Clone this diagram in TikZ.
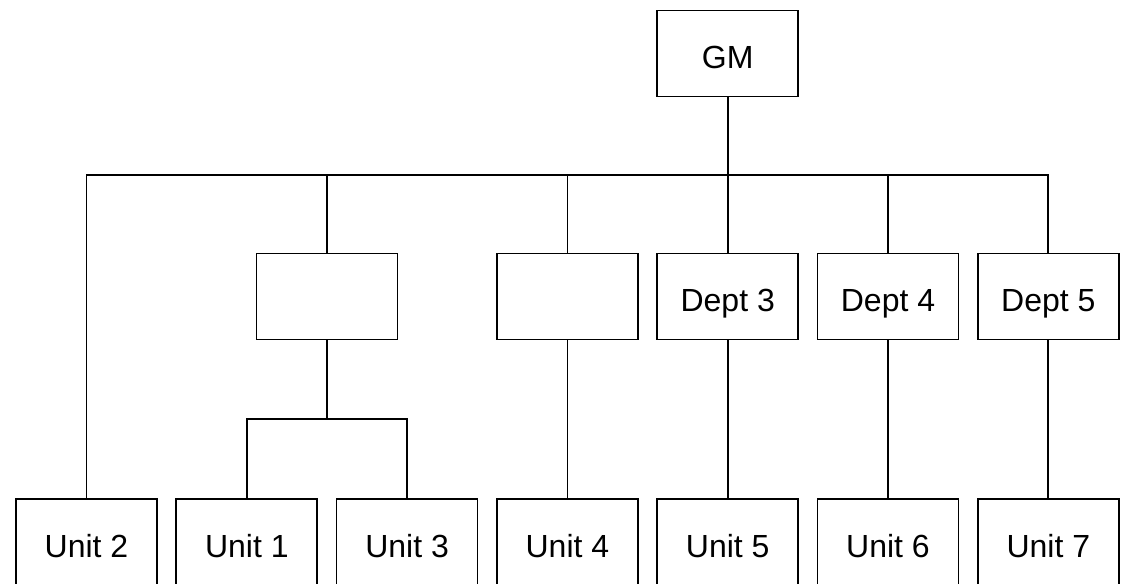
\documentclass[tikz,border=0pt]{standalone}
\usepackage{fontspec}
\setmainfont{Liberation Sans}
\usepackage{tikz}

\tikzset{
  orgbox/.style={draw,line width=1.3pt,inner sep=0pt,minimum width=105.75pt,minimum height=64.5pt,
    font=\fontsize{24}{28}\selectfont,text height=22.5pt,text depth=0pt},
  orgline/.style={line width=1.3pt}
}

\begin{document}
\begin{tikzpicture}[x=0.75pt,y=-0.75pt]
\useasboundingbox (0,0) rectangle (1123,583);
\clip (0,0) rectangle (1123,583);
\node[orgbox] (gm) at (727.7,53.5) {GM};
\node[orgbox] (box1) at (327,296.5) {};
\node[orgbox] (box2) at (567.4,296.5) {};
\node[orgbox] (dept3) at (727.7,296.5) {Dept 3};
\node[orgbox] (dept4) at (888,296.5) {Dept 4};
\node[orgbox] (dept5) at (1048.3,296.5) {Dept 5};
\node[orgbox] (unit2) at (86.5,542) {Unit 2};
\node[orgbox] (unit1) at (246.8,542) {Unit 1};
\node[orgbox] (unit3) at (407.1,542) {Unit 3};
\node[orgbox] (unit4) at (567.4,542) {Unit 4};
\node[orgbox] (unit5) at (727.7,542) {Unit 5};
\node[orgbox] (unit6) at (888,542) {Unit 6};
\node[orgbox] (unit7) at (1048.3,542) {Unit 7};
\coordinate (bus) at (727.7,175);
\coordinate (sub) at (327,419);
\draw[orgline] (gm) -- (dept3);
\draw[orgline] (unit2) |- (bus) -| (dept5);
\draw[orgline] (box1) -- (box1 |- bus);
\draw[orgline] (box2) -- (box2 |- bus);
\draw[orgline] (dept4) -- (dept4 |- bus);
\draw[orgline] (box1) -- (sub);
\draw[orgline] (unit1) |- (sub) -| (unit3);
\draw[orgline] (box2) -- (unit4);
\draw[orgline] (dept3) -- (unit5);
\draw[orgline] (dept4) -- (unit6);
\draw[orgline] (dept5) -- (unit7);
\end{tikzpicture}
\end{document}
